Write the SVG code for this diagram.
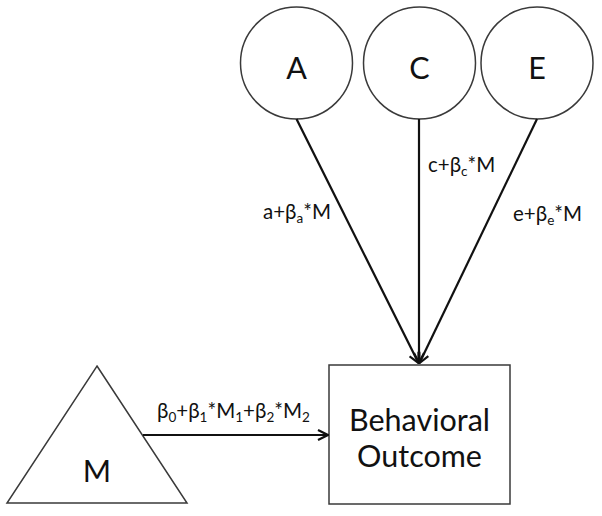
<svg xmlns="http://www.w3.org/2000/svg" width="602" height="516" viewBox="0 0 602 516">
<style>
.shape{fill:#fff;stroke:#3a3a3a;stroke-width:1.5}
.big{font-family:Lato,"Liberation Sans",sans-serif;font-size:30.5px;fill:#111;text-anchor:middle}
.lbl{font-family:Lato,"Liberation Sans",sans-serif;font-size:20.5px;fill:#111}
.sub{font-size:13.5px}
.conn line{stroke:#111;stroke-width:2.2;fill:none}
</style>
<defs>
<marker id="arr" viewBox="0 0 12 12" refX="11" refY="6" markerWidth="12" markerHeight="12" markerUnits="userSpaceOnUse" orient="auto">
<path d="M1,1 L11,6 L1,11" fill="none" stroke="#111" stroke-width="2.2"/>
</marker>
</defs>
<rect width="602" height="516" fill="#fff"/>
<g id="A"><circle class="shape" cx="296.5" cy="63" r="56"/><text class="big" x="296.5" y="79">A</text></g>
<g id="C"><circle class="shape" cx="419.5" cy="63" r="56"/><text class="big" x="419.5" y="79">C</text></g>
<g id="E"><circle class="shape" cx="537" cy="63" r="56"/><text class="big" x="537" y="79">E</text></g>
<g id="M"><polygon class="shape" points="97,366 187,503 7,503"/><text class="big" x="97" y="482">M</text></g>
<g id="Outcome"><rect class="shape" x="329" y="365" width="181" height="139"/><text class="big" x="419.5" y="431">Behavioral</text><text class="big" x="419.5" y="467">Outcome</text></g>
<g class="conn">
<line x1="296.5" y1="119" x2="418.5" y2="363" marker-end="url(#arr)"/>
<line x1="419" y1="119" x2="419" y2="363" marker-end="url(#arr)"/>
<line x1="537" y1="119" x2="419.5" y2="363" marker-end="url(#arr)"/>
<line x1="143" y1="435" x2="328" y2="435" marker-end="url(#arr)"/>
</g>
<g id="labels">
<text class="lbl" x="263" y="219">a+β<tspan class="sub" dy="4">a</tspan><tspan dy="-4">*M</tspan></text>
<text class="lbl" x="428" y="172">c+β<tspan class="sub" dy="4">c</tspan><tspan dy="-4">*M</tspan></text>
<text class="lbl" x="513" y="221">e+β<tspan class="sub" dy="4">e</tspan><tspan dy="-4">*M</tspan></text>
<text class="lbl" x="157" y="418">β<tspan class="sub" dy="4">0</tspan><tspan dy="-4">+β</tspan><tspan class="sub" dy="4">1</tspan><tspan dy="-4">*M</tspan><tspan class="sub" dy="4">1</tspan><tspan dy="-4">+β</tspan><tspan class="sub" dy="4">2</tspan><tspan dy="-4">*M</tspan><tspan class="sub" dy="4">2</tspan></text>
</g>
</svg>
